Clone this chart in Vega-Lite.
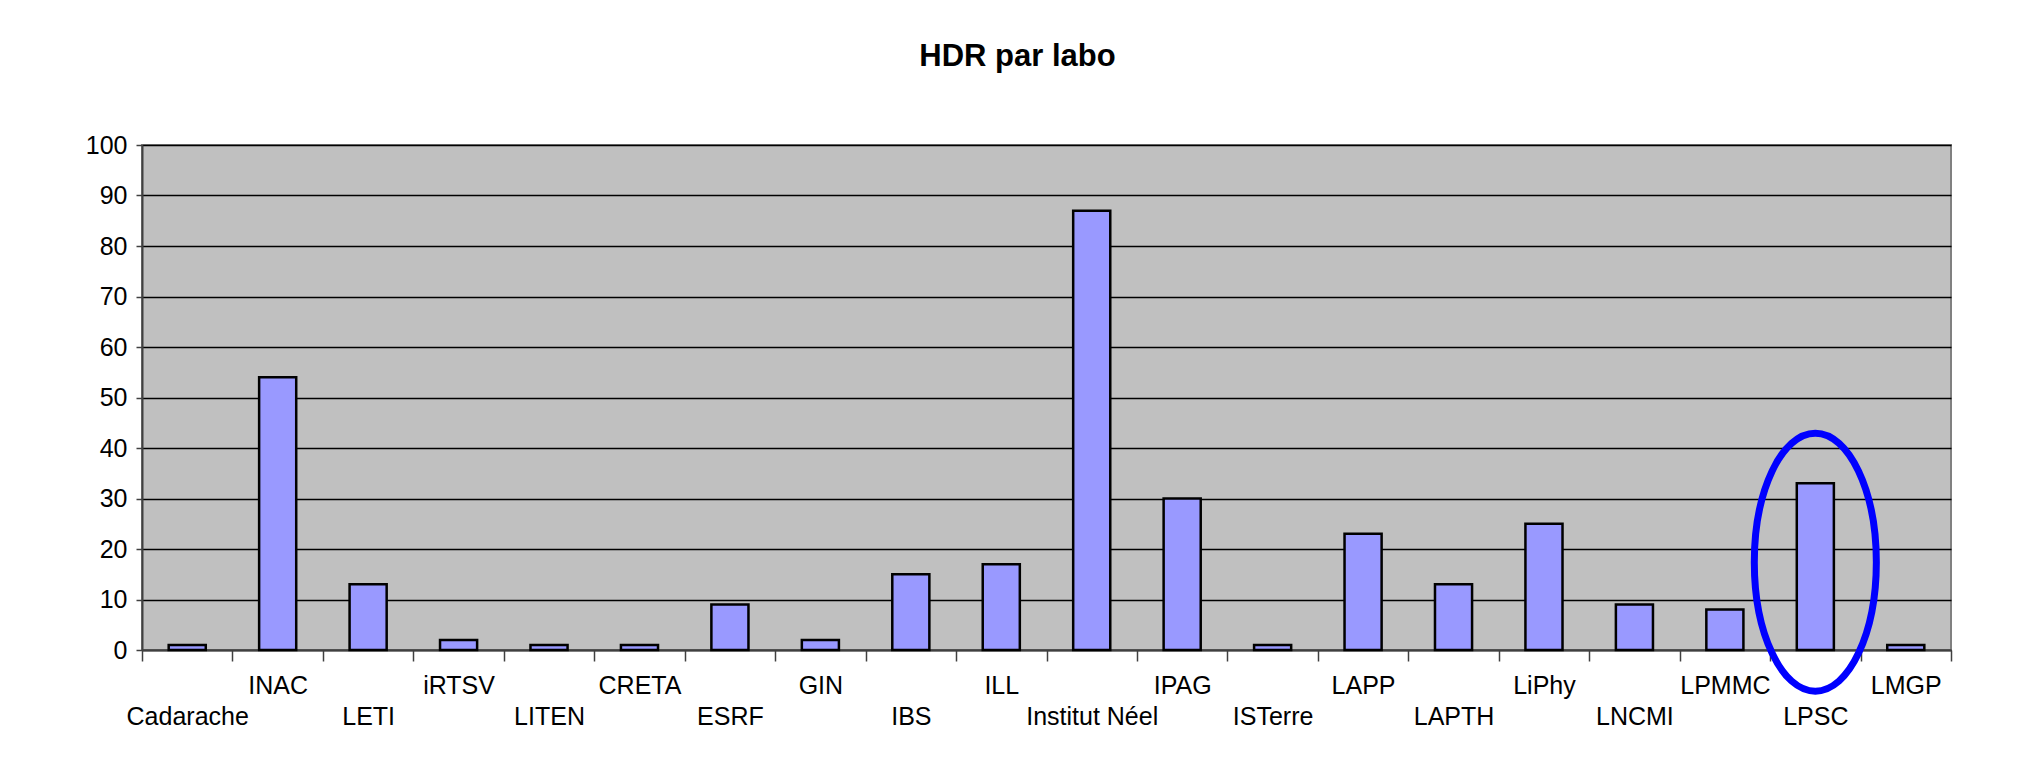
{
  "$schema": "https://vega.github.io/schema/vega-lite/v6.json",
  "width": 1809,
  "height": 505,
  "autosize": "none",
  "padding": {"left": 142, "top": 145, "right": 84, "bottom": 123},
  "background": "white",
  "title": {"text": "HDR par labo", "font": "Liberation Sans", "fontSize": 31, "fontWeight": "bold", "color": "black", "anchor": "middle", "dx": -29, "offset": 60},
  "data": {"values": [
    {"labo": "Cadarache", "hdr": 1},
    {"labo": "INAC", "hdr": 54},
    {"labo": "LETI", "hdr": 13},
    {"labo": "iRTSV", "hdr": 2},
    {"labo": "LITEN", "hdr": 1},
    {"labo": "CRETA", "hdr": 1},
    {"labo": "ESRF", "hdr": 9},
    {"labo": "GIN", "hdr": 2},
    {"labo": "IBS", "hdr": 15},
    {"labo": "ILL", "hdr": 17},
    {"labo": "Institut Néel", "hdr": 87},
    {"labo": "IPAG", "hdr": 30},
    {"labo": "ISTerre", "hdr": 1},
    {"labo": "LAPP", "hdr": 23},
    {"labo": "LAPTH", "hdr": 13},
    {"labo": "LiPhy", "hdr": 25},
    {"labo": "LNCMI", "hdr": 9},
    {"labo": "LPMMC", "hdr": 8},
    {"labo": "LPSC", "hdr": 33},
    {"labo": "LMGP", "hdr": 1}
  ]},
  "layer": [
    {
      "mark": {"type": "bar", "width": {"band": 0.41}, "fill": "#9999FF", "stroke": "black", "strokeWidth": 2.5},
      "encoding": {
        "x": {
          "field": "labo", "type": "nominal",
          "scale": {"paddingInner": 0, "paddingOuter": 0, "domain": ["Cadarache", "INAC", "LETI", "iRTSV", "LITEN", "CRETA", "ESRF", "GIN", "IBS", "ILL", "Institut Néel", "IPAG", "ISTerre", "LAPP", "LAPTH", "LiPhy", "LNCMI", "LPMMC", "LPSC", "LMGP"]},
          "axis": {
            "title": null, "labelAngle": 0, "labelFont": "Liberation Sans", "labelFontSize": 25, "labelColor": "black",
            "labelPadding": {"condition": {"test": "indexof(['INAC','iRTSV','CRETA','GIN','ILL','IPAG','LAPP','LiPhy','LPMMC','LMGP'], datum.value) >= 0", "value": 12}, "value": 43},
            "labelOverlap": false, "labelBound": false, "labelBaseline": "top",
            "tickBand": "extent", "tickSize": 11, "tickColor": "#404040", "tickWidth": 1.5,
            "domainColor": "#404040", "domainWidth": 2, "grid": false
          }
        },
        "y": {
          "field": "hdr", "type": "quantitative",
          "scale": {"domain": [0, 100]},
          "axis": {
            "title": null, "values": [0, 10, 20, 30, 40, 50, 60, 70, 80, 90, 100],
            "labelFont": "Liberation Sans", "labelFontSize": 25, "labelColor": "black", "labelPadding": 9,
            "tickSize": 6, "tickColor": "#404040", "tickWidth": 1.5,
            "domainColor": "#404040", "domainWidth": 2,
            "grid": true, "gridColor": "black", "gridWidth": 1.3
          }
        }
      }
    },
    {
      "data": {"values": [{"labo": "LPSC", "centre": 17.4}]},
      "mark": {"type": "point", "shape": "M -0.473,0 A 0.473,1 0 1,1 0.473,0 A 0.473,1 0 1,1 -0.473,0 Z", "size": 66564, "filled": false, "stroke": "#0000FF", "strokeWidth": 7, "opacity": 1},
      "encoding": {
        "x": {"field": "labo", "type": "nominal"},
        "y": {"field": "centre", "type": "quantitative"}
      }
    }
  ],
  "config": {"view": {"fill": "#C0C0C0", "stroke": "#808080", "strokeWidth": 2}}
}
